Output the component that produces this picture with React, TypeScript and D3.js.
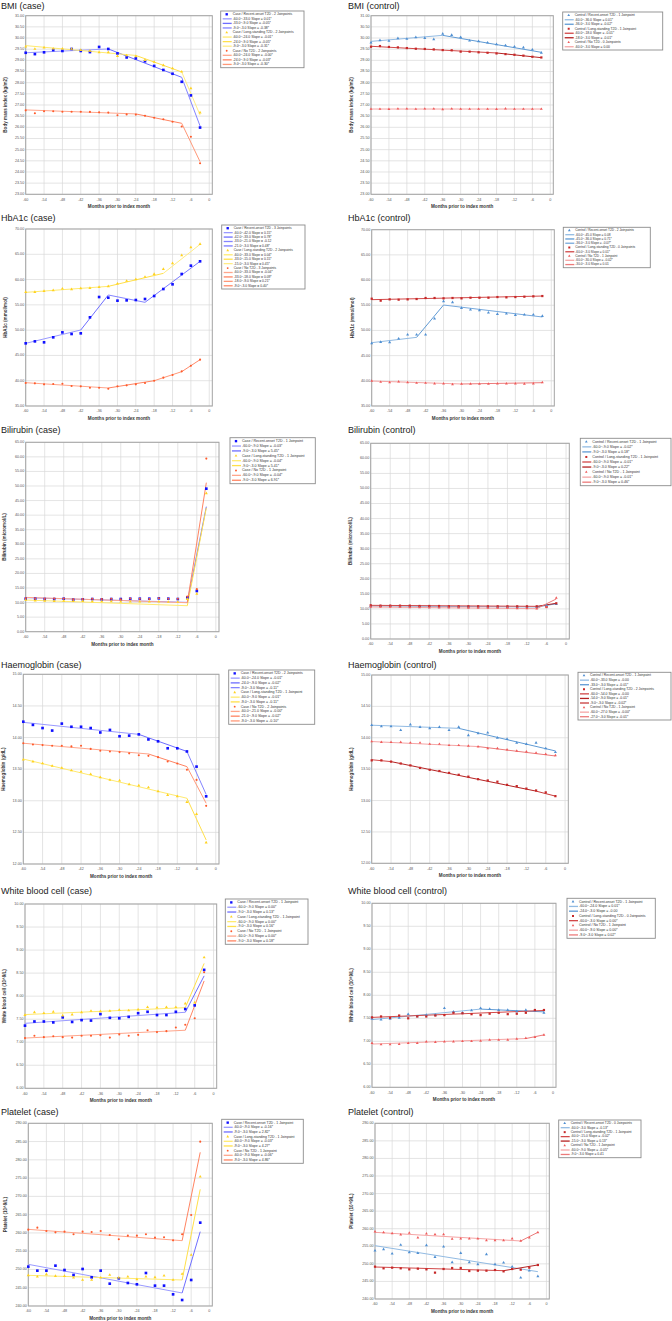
import React from 'react';
import * as d3 from 'd3';

// months before index month (one point every 3 months)
const months = [-60, -57, -54, -51, -48, -45, -42, -39, -36, -33, -30, -27, -24, -21, -18, -15, -12, -9, -6, -3];
const xTicks = [-60, -54, -48, -42, -36, -30, -24, -18, -12, -6, 0];

const caseGroups = ['Case / Recent-onset T2D', 'Case / Long-standing T2D', 'Case / No T2D'];
const controlGroups = ['Control / Recent-onset T2D', 'Control / Long-standing T2D', 'Control / No T2D'];

const bmiTicks = [23, 23.5, 24, 24.5, 25, 25.5, 26, 26.5, 27, 27.5, 28, 28.5, 29, 29.5, 30, 30.5, 31];
const hba1cTicks = [35, 40, 45, 50, 55, 60, 65, 70];
const biliTicks = [0, 5, 10, 15, 20, 25, 30, 35, 40, 45, 50, 55, 60, 65];
const hbTicks = [12, 12.5, 13, 13.5, 14, 14.5, 15];
const wbcTicks = [6, 6.5, 7, 7.5, 8, 8.5, 9, 9.5, 10];
const pltTicks = [240, 245, 250, 255, 260, 265, 270, 275, 280, 285, 290];

// ---- BMI
const bmiCasePoints = [
  [29.34, 29.28, 29.36, 29.46, 29.42, 29.51, 29.42, 29.37, 29.6, 29.51, 29.31, 29.13, 29.09, 28.96, 28.75, 28.57, 28.4, 28.04, 27.43, 25.99],
  [29.61, 29.51, 29.57, 29.52, 29.52, 29.51, 29.46, 29.43, 29.36, 29.36, 29.19, 29.22, 29.18, 29.01, 28.93, 28.78, 28.64, 28.49, 27.75, 26.66],
  [26.76, 26.63, 26.72, 26.72, 26.7, 26.7, 26.7, 26.69, 26.67, 26.66, 26.54, 26.58, 26.57, 26.52, 26.43, 26.36, 26.25, 26.04, 25.58, 24.39],
];
const bmiCaseKnots = [[-60, -33, -9, -3], [-60, -24, -9, -3], [-60, -24, -9, -3]];
const bmiCaseFit = [[29.34, 29.51, 28.24, 26.06], [29.66, 29.22, 28.48, 26.55], [26.78, 26.6, 26.18, 24.46]];
const bmiCaseSlopes = [['0.01*', '-0.05*', '-0.38*'], ['-0.01*', '-0.05*', '-0.31*'], ['-0.00*', '-0.03*', '-0.30*']];

const bmiCtrlPoints = [
  [29.79, 29.9, 29.87, 29.99, 29.96, 30.03, 30.0, 29.94, 30.19, 30.13, 30.04, 29.88, 29.85, 29.79, 29.72, 29.67, 29.61, 29.57, 29.48, 29.34],
  [29.61, 29.64, 29.6, 29.58, 29.55, 29.52, 29.51, 29.49, 29.46, 29.45, 29.39, 29.39, 29.36, 29.34, 29.31, 29.28, 29.25, 29.21, 29.16, 29.13],
  [26.82, 26.82, 26.81, 26.83, 26.83, 26.82, 26.83, 26.83, 26.8, 26.83, 26.82, 26.82, 26.82, 26.82, 26.81, 26.84, 26.82, 26.82, 26.82, 26.82],
];
const bmiCtrlKnots = [[-60, -36, -3], [-60, -18, -3], [-60, -3]];
const bmiCtrlFit = [[29.85, 30.12, 29.36], [29.63, 29.33, 29.12], [26.82, 26.82]];
const bmiCtrlSlopes = [['0.01*', '-0.02*'], ['-0.01*', '-0.01*'], ['0.00']];

// ---- HbA1c
const hba1cCasePoints = [
  [47.39, 47.78, 47.59, 48.58, 49.56, 49.24, 49.37, 52.53, 56.55, 56.42, 55.83, 55.89, 55.96, 56.16, 56.75, 58.13, 59.06, 61.1, 62.75, 63.61],
  [57.54, 57.54, 57.74, 57.87, 58.2, 58.07, 58.27, 58.33, 58.53, 58.66, 59.19, 59.72, 60.05, 60.51, 61.1, 62.09, 63.21, 64.79, 66.37, 67.03],
  [39.54, 39.48, 39.28, 39.35, 39.41, 38.95, 38.89, 38.62, 38.62, 38.42, 38.89, 39.08, 39.28, 39.54, 40.0, 40.6, 41.13, 41.85, 42.97, 44.16],
];
const hba1cCaseKnots = [[-60, -42, -33, -21, -3], [-60, -33, -15, -3], [-60, -33, -18, -9, -3]];
const hba1cCaseFit = [[47.39, 50.03, 56.95, 55.5, 63.6], [57.47, 58.66, 61.23, 66.97], [39.61, 38.56, 40.0, 41.79, 44.16]];
const hba1cCaseSlopes = [['0.15*', '0.78*', '-0.12', '0.48*'], ['0.04*', '0.15*', '0.45*'], ['-0.04*', '0.09*', '0.21*', '0.40*']];

const hba1cCtrlPoints = [
  [47.44, 47.7, 47.64, 48.36, 49.16, 49.16, 49.16, 52.33, 55.77, 55.58, 54.45, 54.12, 53.99, 53.52, 53.26, 53.33, 53.06, 53.13, 53.13, 52.86],
  [56.3, 55.91, 56.17, 56.11, 56.17, 56.24, 56.44, 56.44, 56.37, 56.44, 56.37, 56.5, 56.5, 56.5, 56.63, 56.57, 56.63, 56.7, 56.77, 56.83],
  [39.96, 39.76, 39.7, 39.83, 39.7, 39.56, 39.56, 39.43, 39.43, 39.3, 39.37, 39.37, 39.37, 39.37, 39.43, 39.43, 39.43, 39.37, 39.43, 39.7],
];
const hba1cCtrlKnots = [[-60, -45, -36, -3], [-60, -3], [-60, -30, -3]];
const hba1cCtrlFit = [[47.57, 48.63, 55.05, 52.67], [56.11, 56.83], [39.96, 39.37, 39.63]];
const hba1cCtrlSlopes = [['0.08', '0.71*', '-0.07*'], ['0.01*'], ['-0.02*', '0.01']];

// ---- Bilirubin
const biliCasePoints = [
  [11.33, 11.33, 11.21, 11.21, 11.33, 10.98, 11.1, 11.21, 11.1, 11.21, 11.21, 11.33, 11.33, 11.33, 11.44, 11.33, 11.21, 11.78, 13.96, 49.09],
  [10.9, 10.7, 10.6, 10.5, 10.6, 10.5, 10.5, 10.4, 10.4, 10.4, 10.3, 10.3, 10.3, 10.3, 10.3, 10.2, 10.2, 11.2, 13.0, 47.5],
  [11.5, 11.4, 11.3, 11.4, 11.4, 11.1, 11.2, 11.3, 11.2, 11.3, 11.1, 11.4, 11.3, 11.2, 11.5, 11.3, 11.3, 12.1, 14.6, 59.4],
];
const biliCaseKnots = [[-60, -9, -3], [-60, -9, -3], [-60, -9, -3]];
const biliCaseFit = [[11.67, 10.07, 42.91], [10.87, 8.92, 42.5], [11.78, 9.95, 51.15]];
const biliCaseSlopes = [['-0.03*', '5.45*'], ['-0.04*', '5.41*'], ['-0.04*', '6.91*']];

const biliCtrlPoints = [
  [10.9, 10.9, 10.9, 10.8, 10.8, 10.8, 10.8, 10.7, 10.7, 10.7, 10.7, 10.7, 10.6, 10.6, 10.6, 10.6, 10.6, 10.6, 11.1, 11.6],
  [11.19, 11.07, 11.07, 11.07, 11.07, 10.96, 10.96, 10.96, 10.85, 10.85, 10.85, 10.85, 10.85, 10.85, 10.85, 10.85, 10.85, 10.85, 10.63, 11.85],
  [10.63, 10.63, 10.63, 10.63, 10.52, 10.52, 10.41, 10.41, 10.41, 10.41, 10.3, 10.3, 10.3, 10.3, 10.3, 10.19, 10.19, 10.08, 10.63, 13.62],
];
const biliCtrlKnots = [[-60, -9, -3], [-60, -9, -3], [-60, -9, -3]];
const biliCtrlFit = [[10.96, 10.63, 11.7], [11.18, 10.85, 11.85], [10.63, 10.08, 13.3]];
const biliCtrlSlopes = [['-0.02*', '0.18*'], ['-0.01*', '0.22*'], ['-0.01*', '0.46*']];

// ---- Haemoglobin
const hbCasePoints = [
  [14.25, 14.2, 14.15, 14.11, 14.22, 14.17, 14.17, 14.15, 14.08, 14.12, 14.02, 14.03, 14.05, 13.97, 13.94, 13.83, 13.83, 13.78, 13.54, 13.07],
  [13.65, 13.62, 13.59, 13.55, 13.52, 13.48, 13.46, 13.42, 13.37, 13.33, 13.32, 13.26, 13.24, 13.21, 13.15, 13.09, 13.07, 12.98, 12.79, 12.34],
  [13.91, 13.89, 13.88, 13.87, 13.87, 13.86, 13.87, 13.82, 13.79, 13.78, 13.77, 13.75, 13.72, 13.71, 13.69, 13.62, 13.59, 13.49, 13.33, 12.92],
];
const hbCaseKnots = [[-60, -24, -9, -3], [-60, -9, -3], [-60, -21, -9, -3]];
const hbCaseFit = [[14.24, 14.05, 13.78, 13.1], [13.66, 13.04, 12.38], [13.91, 13.74, 13.54, 12.96]];
const hbCaseSlopes = [['-0.01*', '-0.02*', '-0.11*'], ['-0.01*', '-0.11*'], ['-0.00*', '-0.02*', '-0.10*']];

const hbCtrlPoints = [
  [14.2, 14.18, 14.18, 14.12, 14.21, 14.17, 14.15, 14.17, 14.12, 14.17, 14.04, 14.07, 14.08, 14.0, 13.98, 13.92, 13.9, 13.92, 13.83, 13.77],
  [13.64, 13.64, 13.62, 13.59, 13.56, 13.52, 13.49, 13.47, 13.44, 13.41, 13.38, 13.34, 13.32, 13.3, 13.25, 13.23, 13.19, 13.16, 13.13, 13.07],
  [13.94, 13.93, 13.93, 13.93, 13.92, 13.92, 13.9, 13.9, 13.88, 13.88, 13.87, 13.86, 13.83, 13.83, 13.81, 13.79, 13.78, 13.76, 13.74, 13.72],
];
const hbCtrlKnots = [[-60, -33, -3], [-60, -54, -9, -3], [-60, -27, -3]];
const hbCtrlFit = [[14.2, 14.15, 13.79], [13.65, 13.62, 13.15, 13.07], [13.94, 13.86, 13.71]];
const hbCtrlSlopes = [['-0.00', '-0.01*'], ['-0.00', '-0.01*', '-0.02*'], ['-0.00*', '-0.01*']];

// ---- White blood cell
const wbcCasePoints = [
  [7.36, 7.45, 7.45, 7.43, 7.54, 7.44, 7.48, 7.47, 7.61, 7.53, 7.52, 7.55, 7.63, 7.66, 7.59, 7.59, 7.66, 7.72, 7.8, 8.57],
  [7.59, 7.65, 7.63, 7.66, 7.58, 7.6, 7.65, 7.68, 7.67, 7.68, 7.7, 7.69, 7.71, 7.76, 7.75, 7.76, 7.76, 7.84, 7.86, 8.84],
  [7.09, 7.14, 7.11, 7.13, 7.11, 7.1, 7.14, 7.14, 7.15, 7.1, 7.17, 7.14, 7.16, 7.26, 7.22, 7.24, 7.32, 7.38, 7.52, 8.52],
];
const wbcCaseKnots = [[-60, -9, -3], [-60, -9, -3], [-60, -9, -3]];
const wbcCaseFit = [[7.41, 7.65, 8.44], [7.6, 7.75, 8.71], [7.09, 7.26, 8.33]];
const wbcCaseSlopes = [['0.00*', '0.13*'], ['0.00*', '0.16*'], ['0.00*', '0.18*']];

const wbcCtrlPoints = [
  [7.49, 7.47, 7.49, 7.51, 7.59, 7.54, 7.57, 7.57, 7.72, 7.64, 7.62, 7.67, 7.72, 7.7, 7.68, 7.68, 7.65, 7.68, 7.67, 7.62],
  [7.52, 7.54, 7.51, 7.56, 7.5, 7.54, 7.54, 7.56, 7.57, 7.62, 7.61, 7.59, 7.57, 7.6, 7.62, 7.59, 7.6, 7.62, 7.68, 7.68],
  [6.96, 6.93, 6.93, 6.94, 6.96, 6.96, 6.99, 6.98, 6.99, 6.99, 7.0, 7.0, 7.01, 7.03, 7.03, 7.03, 7.05, 7.07, 7.09, 7.14],
];
const wbcCtrlKnots = [[-60, -24, -3], [-60, -3], [-60, -9, -3]];
const wbcCtrlFit = [[7.47, 7.7, 7.64], [7.52, 7.67], [6.94, 7.06, 7.14]];
const wbcCtrlSlopes = [['0.01*', '-0.00'], ['0.00*'], ['0.00*', '0.02*']];

// ---- Platelet
const pltCasePoints = [
  [250.77, 249.67, 249.67, 251.04, 249.85, 248.49, 250.13, 247.85, 249.67, 246.11, 247.57, 246.3, 245.93, 249.03, 245.57, 245.57, 243.19, 241.64, 247.12, 262.81],
  [248.39, 248.03, 248.67, 248.21, 248.21, 247.76, 247.12, 247.12, 247.76, 248.49, 247.76, 248.03, 247.3, 248.03, 247.85, 248.3, 247.12, 248.76, 253.96, 275.4],
  [260.89, 261.44, 260.53, 260.16, 260.35, 259.62, 260.35, 260.26, 260.53, 259.43, 258.25, 259.25, 259.25, 259.62, 258.7, 258.8, 257.97, 259.62, 264.91, 284.98],
];
const pltCaseKnots = [[-60, -9, -3], [-60, -9, -3], [-60, -9, -3]];
const pltCaseFit = [[251.4, 243.56, 260.35], [248.39, 247.12, 271.93], [260.98, 257.88, 282.06]];
const pltCaseSlopes = [['-0.16*', '2.82*'], ['-0.03*', '4.27*'], ['-0.06*', '4.86*']];

const pltCtrlPoints = [
  [253.76, 254.14, 252.9, 255.37, 253.28, 253.09, 255.28, 251.95, 254.9, 250.44, 253.09, 250.44, 249.87, 252.71, 249.87, 250.34, 249.2, 246.07, 248.06, 246.45],
  [249.2, 248.73, 248.92, 248.73, 248.44, 248.63, 248.44, 247.5, 248.54, 248.82, 248.82, 247.97, 248.06, 248.06, 248.25, 247.87, 248.54, 248.35, 248.92, 249.68],
  [259.16, 258.97, 258.69, 258.31, 258.79, 257.46, 258.6, 258.41, 258.41, 257.08, 257.17, 257.17, 257.17, 256.7, 256.7, 256.7, 257.17, 256.51, 257.46, 258.97],
];
const pltCtrlKnots = [[-60, -3], [-60, -15, -3], [-60, -9, -3]];
const pltCtrlFit = [[255.18, 247.78], [249.11, 248.06, 249.68], [258.97, 256.51, 258.97]];
const pltCtrlSlopes = [['-0.13*'], ['-0.02*', '0.13*'], ['-0.05*', '0.41']];

const caseStyles = [
  { point: '#1010ff', symbol: d3.symbolSquare, size: 7, segs: ['#9a9aff', '#6e6eff', '#8484ff', '#7a7aff'] },
  { point: '#ffd21f', symbol: d3.symbolTriangle, size: 4, segs: ['#ffea70', '#ffe04a', '#ffec85'] },
  { point: '#ff5a2a', symbol: d3.symbolCircle, size: 3.5, segs: ['#ffa68c', '#ff8462', '#ff9878', '#ff8a6a'] },
];
const controlStyles = [
  { point: '#4f8fd2', symbol: d3.symbolTriangle, size: 4, segs: ['#92bbe3', '#5f9ad4', '#78a9dc'] },
  { point: '#c62828', symbol: d3.symbolSquare, size: 5, segs: ['#d24848', '#b52222', '#c83c3c'] },
  { point: '#ef5a5a', symbol: d3.symbolTriangle, size: 3.5, segs: ['#f5a5a5', '#ec7a7a', '#f29090'] },
];

const font = '"Liberation Sans", Arial, sans-serif';

const panels = [
  { title: 'BMI (case)', yTitle: 'Body mass index (kg/m2)', ctrl: false, ticks: bmiTicks, points: bmiCasePoints, knots: bmiCaseKnots, fit: bmiCaseFit, slopes: bmiCaseSlopes, plot: [25.7, 15.7, 212.3, 194.3], legend: [220.7, 11, 83.3, 56.7], titleY: 8.5, yOff: 20 },
  { title: 'BMI (control)', yTitle: 'Body mass index (kg/m2)', ctrl: true, ticks: bmiTicks, points: bmiCtrlPoints, knots: bmiCtrlKnots, fit: bmiCtrlFit, slopes: bmiCtrlSlopes, plot: [371, 15.7, 553.3, 194.3], legend: [562.7, 12, 100, 38], titleY: 8.5, yOff: 19 },
  { title: 'HbA1c (case)', yTitle: 'HbA1c (mmol/mol)', ctrl: false, ticks: hba1cTicks, points: hba1cCasePoints, knots: hba1cCaseKnots, fit: hba1cCaseFit, slopes: hba1cCaseSlopes, plot: [25.7, 229, 212.3, 406], legend: [221.7, 225, 83.3, 64], titleY: 221, yOff: 20 },
  { title: 'HbA1c (control)', yTitle: 'HbA1c (mmol/mol)', ctrl: true, ticks: hba1cTicks, points: hba1cCtrlPoints, knots: hba1cCtrlKnots, fit: hba1cCtrlFit, slopes: hba1cCtrlSlopes, plot: [371.7, 229.7, 554.3, 406], legend: [563.3, 227.3, 87, 40.4], titleY: 221, yOff: 19 },
  { title: 'Bilirubin (case)', yTitle: 'Bilirubin (micromol/L)', ctrl: false, ticks: biliTicks, points: biliCasePoints, knots: biliCaseKnots, fit: biliCaseFit, slopes: biliCaseSlopes, plot: [25.7, 442.3, 219, 631.7], legend: [230, 437.7, 85.3, 46], titleY: 433, yOff: 21 },
  { title: 'Bilirubin (control)', yTitle: 'Bilirubin (micromol/L)', ctrl: true, ticks: biliTicks, points: biliCtrlPoints, knots: biliCtrlKnots, fit: biliCtrlFit, slopes: biliCtrlSlopes, plot: [370.7, 443.3, 569.3, 639], legend: [580.3, 438.3, 90.7, 47.4], titleY: 433, yOff: 20 },
  { title: 'Haemoglobin (case)', yTitle: 'Haemoglobin (g/dL)', ctrl: false, ticks: hbTicks, points: hbCasePoints, knots: hbCaseKnots, fit: hbCaseFit, slopes: hbCaseSlopes, plot: [23.3, 674.3, 219, 864], legend: [228.7, 670, 86, 54.3], titleY: 668, yOff: 20 },
  { title: 'Haemoglobin (control)', yTitle: 'Haemoglobin (g/dL)', ctrl: true, ticks: hbTicks, points: hbCtrlPoints, knots: hbCtrlKnots, fit: hbCtrlFit, slopes: hbCtrlSlopes, plot: [371.7, 675, 568.3, 863.3], legend: [578, 672.3, 93, 47.7], titleY: 668, yOff: 20 },
  { title: 'White blood cell (case)', yTitle: 'White blood cell (10^9/L)', ctrl: false, ticks: wbcTicks, points: wbcCasePoints, knots: wbcCaseKnots, fit: wbcCaseFit, slopes: wbcCaseSlopes, plot: [25, 904, 216.7, 1088.3], legend: [225.3, 899, 82.7, 45.3], titleY: 894, yOff: 20 },
  { title: 'White blood cell (control)', yTitle: 'White blood cell (10^9/L)', ctrl: true, ticks: wbcTicks, points: wbcCtrlPoints, knots: wbcCtrlKnots, fit: wbcCtrlFit, slopes: wbcCtrlSlopes, plot: [372, 903.3, 556, 1087.3], legend: [567, 898.3, 88.3, 40], titleY: 894, yOff: 20 },
  { title: 'Platelet (case)', yTitle: 'Platelet (10^9/L)', ctrl: false, ticks: pltTicks, points: pltCasePoints, knots: pltCaseKnots, fit: pltCaseFit, slopes: pltCaseSlopes, plot: [28.3, 1123.3, 212.3, 1306], legend: [221.7, 1119.3, 81.6, 44], titleY: 1115, yOff: 23 },
  { title: 'Platelet (control)', yTitle: 'Platelet (10^9/L)', ctrl: true, ticks: pltTicks, points: pltCtrlPoints, knots: pltCtrlKnots, fit: pltCtrlFit, slopes: pltCtrlSlopes, plot: [375, 1123.3, 549.3, 1299], legend: [558.7, 1120, 82.3, 37.7], titleY: 1115, yOff: 23 },
];

const fmtKnot = (m: number) => m.toFixed(1);

function Panel({ p }: { p: any }) {
  const [l, t, r, b] = p.plot;
  const x = d3.scaleLinear().domain([-60, 1]).range([l, r]);
  const y = d3.scaleLinear().domain([p.ticks[0], p.ticks[p.ticks.length - 1]]).range([b, t]);
  const styles = p.ctrl ? controlStyles : caseStyles;
  const groups = p.ctrl ? controlGroups : caseGroups;
  const titleX = l < 336 ? 1 : 348;
  const line = d3.line<number[]>().x(d => x(d[0])).y(d => y(d[1]));

  // legend rows
  const rows: any[] = [];
  groups.forEach((g, i) => {
    const n = p.knots[i].length - 2;
    rows.push({ kind: 'head', i, text: `${g} - ${n} Joinpoint${n === 1 ? '' : 's'}` });
    p.slopes[i].forEach((s: string, j: number) => {
      rows.push({ kind: 'seg', i, j, text: `${fmtKnot(p.knots[i][j])}~${fmtKnot(p.knots[i][j + 1])} Slope = ${s}` });
    });
  });
  const [lx, ly, lw, lh] = p.legend;
  const rowH = (lh - 2) / rows.length;
  const lfs = Math.min(3.6, rowH * 0.75);

  return (
    <g>
      <text x={titleX} y={p.titleY} fontSize={9} fontFamily={font} fill="#222">{p.title}</text>
      <rect x={l} y={t} width={r - l} height={b - t} fill="#fff" />
      {p.ticks.map((v: number) => (
        <line key={'h' + v} x1={l} x2={r} y1={y(v)} y2={y(v)} stroke="#d9d9d9" strokeWidth={0.7} />
      ))}
      {xTicks.map(v => (
        <line key={'v' + v} x1={x(v)} x2={x(v)} y1={t} y2={b} stroke="#d9d9d9" strokeWidth={0.7} />
      ))}
      <rect x={l} y={t} width={r - l} height={b - t} fill="none" stroke="#a3a3a3" strokeWidth={1} />
      {p.ticks.map((v: number) => (
        <text key={'yl' + v} x={l - 1.5} y={y(v)} fontSize={3.7} fontFamily={font} fill="#555" textAnchor="end" dominantBaseline="middle">{v.toFixed(2)}</text>
      ))}
      {xTicks.map(v => (
        <text key={'xl' + v} x={x(v)} y={b + 5.5} fontSize={3.7} fontFamily={font} fill="#555" textAnchor="middle" dominantBaseline="middle">{v}</text>
      ))}
      <text x={(l + r) / 2} y={b + 12.7} fontSize={4.6} fontWeight="bold" fontFamily={font} fill="#333" textAnchor="middle" dominantBaseline="middle">Months prior to index month</text>
      <text transform={`translate(${l - p.yOff},${(t + b) / 2}) rotate(-90)`} fontSize={4.6} fontWeight="bold" fontFamily={font} fill="#333" textAnchor="middle" dominantBaseline="middle">{p.yTitle}</text>

      {p.fit.map((vals: number[], i: number) =>
        vals.slice(1).map((v, j) => (
          <path key={`f${i}-${j}`} d={line([[p.knots[i][j], vals[j]], [p.knots[i][j + 1], v]]) || ''} fill="none" stroke={styles[i].segs[j % styles[i].segs.length]} strokeWidth={1} />
        ))
      )}
      {p.points.map((vals: number[], i: number) =>
        vals.map((v, k) => (
          <path key={`p${i}-${k}`} transform={`translate(${x(months[k])},${y(v)})`} d={d3.symbol().type(styles[i].symbol).size(styles[i].size)() || ''} fill={styles[i].point} />
        ))
      )}

      <rect x={lx} y={ly} width={lw} height={lh} fill="#fff" stroke="#8c8c8c" strokeWidth={0.9} />
      {rows.map((row, k) => {
        const cy = ly + 1 + rowH * (k + 0.5);
        const st = styles[row.i];
        return (
          <g key={'lg' + k}>
            {row.kind === 'head' ? (
              <path transform={`translate(${lx + 6},${cy})`} d={d3.symbol().type(st.symbol).size(st.size * 0.8)() || ''} fill={st.point} />
            ) : (
              <line x1={lx + 2} x2={lx + 11} y1={cy} y2={cy} stroke={st.segs[row.j % st.segs.length]} strokeWidth={1.3} />
            )}
            <text x={lx + 12} y={cy} fontSize={lfs} fontFamily={font} fill="#333" dominantBaseline="middle">{row.text}</text>
          </g>
        );
      })}
    </g>
  );
}

export default function App() {
  return (
    <svg width={672} height={1321} viewBox="0 0 672 1321" style={{ position: 'absolute', left: 0, top: 0, background: '#fff' }}>
      <rect x={0} y={0} width={672} height={1321} fill="#fff" />
      {panels.map(p => <Panel key={p.title} p={p} />)}
    </svg>
  );
}
